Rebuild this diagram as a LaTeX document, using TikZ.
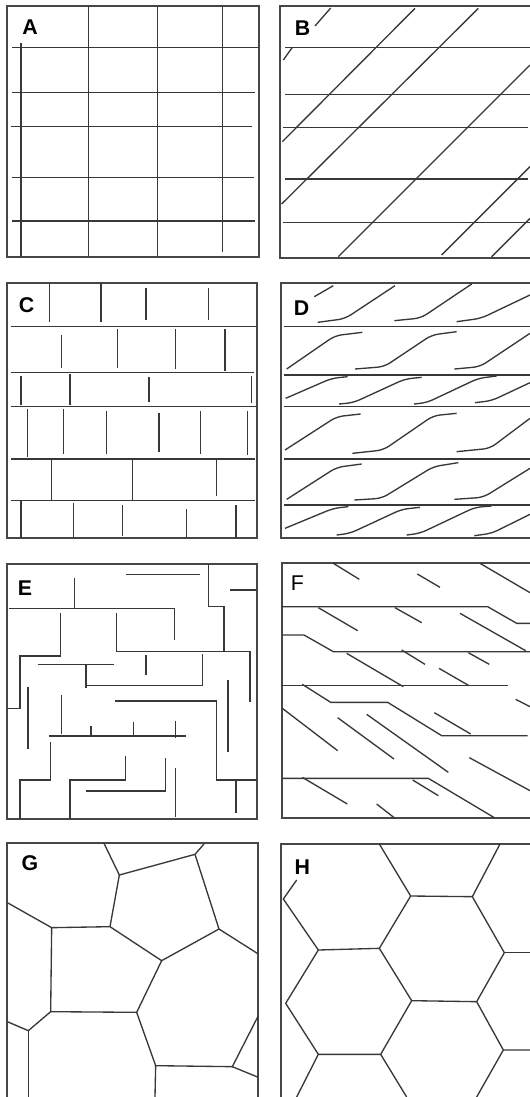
\documentclass[tikz,border=0pt]{standalone}
\usepackage{fontspec}
\setmainfont{Liberation Sans}
\begin{document}
\begin{tikzpicture}[x=0.75pt,y=-0.75pt,
  frame/.style={line width=1.6pt, draw=black!72, line join=miter},
  ln/.style={line width=1pt, draw=black!78},
  sw/.style={line width=1pt, draw=black!78, rounded corners=5pt},
  lab/.style={font=\bfseries\fontsize{16}{16}\selectfont, inner sep=0pt},
  labr/.style={font=\fontsize{16}{16}\selectfont, inner sep=0pt}]
\useasboundingbox (0,0) rectangle (530,1097);
\fill[white] (0,0) rectangle (530,1097);

% ---------- A ----------
\begin{scope}[shift={(0,0)},scale=1/3]
\draw[frame] (22,18) rectangle (776,770);
\draw[ln] (265,18)--(265,770) (472,18)--(472,770) (667,18)--(667,757) (63,130)--(63,770);
\draw[ln] (37,143)--(776,143) (37,278)--(765,278) (33,380)--(757,380) (37,533)--(762,533) (37,663)--(765,663);
\node[lab] (labA) at (90,82) {A};
\end{scope}

% ---------- B ----------
\begin{scope}[shift={(265,0)},scale=1/3]
\draw[frame] (795,18)--(45,18)--(45,773)--(795,773);
\draw[ln] (60,143)--(795,143) (60,283)--(795,283) (55,383)--(788,383) (60,537)--(788,537) (55,667)--(795,667);
\draw[ln] (55,180)--(82,142) (150,78)--(197,24);
\draw[ln] (52,425)--(450,25) (50,612)--(640,25) (220,770)--(795,195) (530,765)--(795,500) (680,770)--(795,655);
\node[lab] (labB) at (113,85) {B};
\end{scope}

% ---------- C ----------
\begin{scope}[shift={(0,270)},scale=1/3]
\draw[frame] (22,38) rectangle (772,803);
\draw[ln] (33,170)--(772,170) (33,308)--(762,308) (33,410)--(772,410) (33,567)--(765,567) (33,692)--(765,692);
% row 1
\draw[ln] (148,40)--(148,155) (303,40)--(303,155) (438,55)--(438,150) (625,55)--(625,150);
% row 2
\draw[ln] (185,195)--(185,295) (353,178)--(353,295) (527,178)--(527,298) (675,178)--(675,302);
% row 3
\draw[ln] (63,318)--(63,405) (210,312)--(210,405) (447,322)--(447,395) (755,318)--(755,400);
% row 4
\draw[ln] (83,418)--(83,560) (190,418)--(190,552) (320,422)--(320,552) (477,428)--(477,547) (602,422)--(602,552) (742,422)--(742,555);
% row 5
\draw[ln] (155,567)--(155,692) (397,567)--(397,692) (650,570)--(650,678);
% row 6
\draw[ln] (63,692)--(63,803) (220,700)--(220,803) (367,705)--(367,798) (560,718)--(560,803) (708,705)--(708,803);
\node[lab] (labC) at (80,105) {C};
\end{scope}

% ---------- D ----------
\begin{scope}[shift={(265,270)},scale=1/3]
\draw[frame] (795,40)--(48,40)--(48,803)--(795,803);
\draw[ln] (58,170)--(795,170) (58,315)--(795,315) (58,410)--(795,410) (58,567)--(795,567) (58,705)--(795,705);
\draw[ln] (148,80)--(205,47);
\draw[sw] (158,157)--(240,146)--(390,47);
\draw[sw] (388,152)--(468,144)--(620,42);
\draw[sw] (575,155)--(648,145)--(795,75);
\draw[sw] (65,297)--(210,197)--(292,187);
\draw[sw] (270,297)--(358,290)--(500,195)--(575,185);
\draw[sw] (568,297)--(645,290)--(795,190);
\draw[sw] (62,385)--(200,325)--(248,320);
\draw[sw] (222,402)--(265,398)--(420,327)--(470,322);
\draw[sw] (447,402)--(485,398)--(640,325)--(695,318);
\draw[sw] (630,398)--(680,392)--(795,338);
\draw[sw] (60,540)--(215,440)--(287,432);
\draw[sw] (262,550)--(355,540)--(505,437)--(575,430);
\draw[sw] (575,545)--(675,535)--(795,445);
\draw[sw] (65,688)--(215,592)--(290,582);
\draw[sw] (268,690)--(350,685)--(505,590)--(580,578);
\draw[sw] (568,688)--(655,682)--(795,595);
\draw[sw] (60,775)--(205,715)--(250,710);
\draw[sw] (215,795)--(255,790)--(410,718)--(465,712);
\draw[sw] (425,795)--(465,790)--(630,712)--(680,708);
\draw[sw] (628,797)--(680,790)--(795,733);
\node[lab] (labD) at (110,115) {D};
\end{scope}

% ---------- E ----------
\begin{scope}[shift={(0,550)},scale=1/3]
\draw[frame] (20,43) rectangle (772,808);
\draw[ln] (378,73)--(600,73);
\draw[ln] (625,43)--(625,170)--(672,170)--(672,305);
\draw[ln] (690,120)--(772,120);
\draw[ln] (223,85)--(223,175);
\draw[ln] (28,175)--(523,175)--(523,270);
\draw[ln] (181,190)--(181,318)--(60,318)--(60,475)--(22,475);
\draw[ln] (350,190)--(350,305)--(750,305)--(750,455);
\draw[ln] (113,343)--(343,343);
\draw[ln] (258,343)--(258,415);
\draw[ln] (258,407)--(607,407)--(607,312);
\draw[ln] (438,315)--(438,375);
\draw[ln] (84,410)--(84,598);
\draw[ln] (185,435)--(185,552);
\draw[ln] (345,453)--(650,453)--(650,690)--(772,690);
\draw[ln] (684,390)--(684,607);
\draw[ln] (147,558)--(558,558) (273,528)--(273,558) (400,515)--(400,558) (527,512)--(527,565);
\draw[ln] (152,575)--(152,690)--(60,690)--(60,808);
\draw[ln] (376,617)--(376,690)--(210,690)--(210,808);
\draw[ln] (257,723)--(497,723)--(497,625);
\draw[ln] (527,655)--(527,800);
\draw[ln] (708,690)--(708,788);
\node[lab] (labE) at (75,113) {E};
\end{scope}

% ---------- F ----------
\begin{scope}[shift={(265,550)},scale=1/3]
\draw[frame] (795,40)--(50,40)--(50,805)--(795,805);
\draw[ln] (50,170)--(668,170)--(755,220)--(795,220);
\draw[ln] (50,255)--(117,255)--(205,305)--(795,305);
\draw[ln] (50,407)--(728,407);
\draw[ln] (112,403)--(197,457)--(368,457)--(530,557)--(788,557);
\draw[ln] (50,685)--(490,685)--(688,803);
\draw[ln] (205,40)--(283,88) (457,72)--(525,112) (645,40)--(795,128);
\draw[ln] (160,173)--(278,242) (390,173)--(470,218) (585,190)--(782,302);
\draw[ln] (245,310)--(415,410) (410,300)--(480,343) (610,308)--(673,343) (522,355)--(612,407);
\draw[ln] (752,448)--(795,470);
\draw[ln] (52,475)--(218,602) (218,503)--(387,627) (305,493)--(550,667) (508,488)--(617,552);
\draw[ln] (613,623)--(795,722);
\draw[ln] (112,682)--(247,762) (443,690)--(520,737) (335,762)--(390,805);
\node[labr] (labF) at (97,100) {F};
\end{scope}

% ---------- G ----------
\begin{scope}[shift={(0,820)},scale=1/3]
\draw[frame] (22,831)--(22,70)--(775,70)--(775,831);
\draw[ln] (312,70)--(358,165)--(585,103)--(612,72);
\draw[ln] (358,165)--(330,320);
\draw[ln] (585,103)--(657,327)--(775,402);
\draw[ln] (22,248)--(155,323)--(330,320)--(485,422)--(657,327);
\draw[ln] (155,323)--(152,575)--(410,577)--(485,422);
\draw[ln] (152,575)--(85,632)--(22,605);
\draw[ln] (85,632)--(85,831);
\draw[ln] (410,577)--(467,737)--(697,740)--(775,587);
\draw[ln] (697,740)--(775,772);
\draw[ln] (467,737)--(465,831);
\node[lab] (labG) at (90,130) {G};
\end{scope}

% ---------- H ----------
\begin{scope}[shift={(265,820)},scale=1/3]
\draw[frame] (795,72)--(48,72)--(48,831);
\draw[ln] (343,72)--(437,228)--(622,230)--(705,72);
\draw[ln] (95,180)--(55,237)--(160,390)--(343,385)--(437,228);
\draw[ln] (343,385)--(440,542)--(635,545)--(718,398)--(622,230);
\draw[ln] (718,398)--(795,398);
\draw[ln] (160,390)--(62,550)--(160,703)--(347,703)--(440,542);
\draw[ln] (347,703)--(425,831) (160,703)--(95,831);
\draw[ln] (635,545)--(715,690)--(795,690) (715,690)--(635,831);
\node[lab] (labH) at (112,140) {H};
\end{scope}
\end{tikzpicture}
\end{document}
